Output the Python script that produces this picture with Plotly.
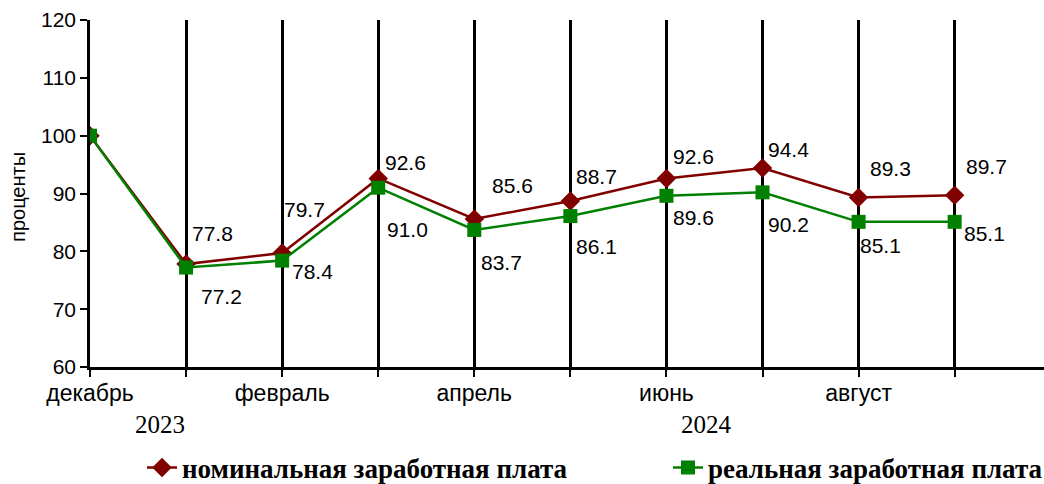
import plotly.graph_objects as go

months = ["декабрь", "январь", "февраль", "март", "апрель", "май",
          "июнь", "июль", "август", "сентябрь"]
tick_labels = ["декабрь", "", "февраль", "", "апрель", "", "июнь", "", "август", ""]
nominal = [100, 77.8, 79.7, 92.6, 85.6, 88.7, 92.6, 94.4, 89.3, 89.7]
real = [100, 77.2, 78.4, 91.0, 83.7, 86.1, 89.6, 90.2, 85.1, 85.1]
years = ["2023", "2024"]
year_pos = [0.73, 6.42]

# label offsets in pixels (dx, dy) - styling only
nom_off = [None, (26, -31), (22, -44), (27, -16), (38, -33), (26, -25),
           (27, -22), (26, -19), (32, -29), (32, -29)]
real_off = [None, (35, 29), (30, 11), (29, 42), (27, 33), (26, 30),
            (27, 22), (26, 32), (22, 24), (30, 12)]

x = list(range(len(months)))
fig = go.Figure()
fig.add_trace(go.Scatter(
    x=x, y=nominal, mode="lines+markers", name="номинальная заработная плата",
    line=dict(color="#800000", width=2.5),
    marker=dict(symbol="diamond", size=15, color="#800000"), showlegend=True))
fig.add_trace(go.Scatter(
    x=x, y=real, mode="lines+markers", name="реальная заработная плата",
    line=dict(color="#008000", width=2.5),
    marker=dict(symbol="square", size=14, color="#008000"), legend="legend2", showlegend=True))

lab_font = dict(family="Liberation Sans, Arial", size=21, color="black")
for i in x:
    if nom_off[i]:
        fig.add_annotation(x=i, y=nominal[i], text=f"{nominal[i]:.1f}", showarrow=False,
                           xshift=nom_off[i][0], yshift=-nom_off[i][1], font=lab_font)
    if real_off[i]:
        fig.add_annotation(x=i, y=real[i], text=f"{real[i]:.1f}", showarrow=False,
                           xshift=real_off[i][0], yshift=-real_off[i][1], font=lab_font)

for yr, xp in zip(years, year_pos):
    fig.add_annotation(x=xp, y=-0.167, yref="paper", text=yr, showarrow=False,
                       xanchor="center", yanchor="middle",
                       font=dict(family="Liberation Serif, Times New Roman", size=25, color="black"))

fig.add_annotation(x=-0.0755, xref="paper", y=0.49, yref="paper", text="проценты",
                   textangle=-90, showarrow=False, xanchor="center", yanchor="middle",
                   font=dict(family="Liberation Sans, Arial", size=20, color="black"))

fig.update_xaxes(range=[0, 9.93], tickmode="array", tickvals=x, ticktext=tick_labels,
                 showgrid=True, gridcolor="black", gridwidth=2.5,
                 showline=True, linecolor="black", linewidth=2.5,
                 ticks="outside", ticklen=7, tickwidth=2, tickcolor="black",
                 tickfont=dict(family="Liberation Sans, Arial", size=23, color="black"),
                 zeroline=False, automargin=False, ticklabelstandoff=-3)
fig.update_yaxes(range=[60, 120], dtick=10, showgrid=False, zeroline=False,
                 showline=True, linecolor="black", linewidth=2.5,
                 ticks="outside", ticklen=7, tickwidth=2, tickcolor="black",
                 tickfont=dict(family="Liberation Sans, Arial", size=21, color="black"),
                 automargin=False)

leg_font = dict(family="Liberation Serif, Times New Roman", size=27, color="black", weight="bold")
fig.update_layout(
    width=1044, height=484, showlegend=True,
    margin=dict(l=90, r=0, t=20, b=117),
    paper_bgcolor="white", plot_bgcolor="white",
    legend=dict(orientation="h", x=142 / 1044, y=1 - 468 / 484, xref="container", yref="container",
                xanchor="left", yanchor="middle", font=leg_font, bgcolor="rgba(0,0,0,0)"),
    legend2=dict(orientation="h", x=668 / 1044, y=1 - 468 / 484, xref="container", yref="container",
                 xanchor="left", yanchor="middle", font=leg_font, bgcolor="rgba(0,0,0,0)"),
)
fig.write_html("out.html", config={"displayModeBar": False},
               post_script="document.body.style.margin='0';")
